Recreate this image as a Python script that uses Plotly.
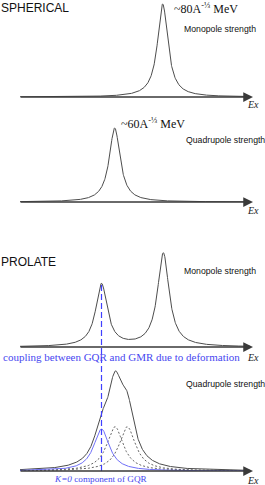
import numpy as np
import plotly.graph_objects as go

W, H = 265, 485

# ---- data (arbitrary Ex units, strength in arbitrary units) ----
ex_grid = np.linspace(20, 250, 921)

sph_mono_center = [162.7]
sph_mono_height = [93.0]
sph_mono_width = [6.3]

sph_quad_center = [114.7]
sph_quad_height = [74.0]
sph_quad_width = [6.6]

pro_mono_center = [101.5, 163.3]
pro_mono_height = [62.5, 93.5]
pro_mono_width = [7.0, 7.0]

pro_quad_total_center = [101.5, 115.0, 127.3]
pro_quad_total_height = [30.6, 72.9, 50.2]
pro_quad_total_width = [9.0, 9.0, 9.0]

k0_center, k0_height, k0_width = 101.5, 42.0, 9.5
k_other_center = [115.0, 127.3]
k_other_height = [44.3, 44.3]
k_other_width = [10.0, 10.0]


def lorentz_sum(x, centers, heights, widths):
    y = np.zeros_like(x)
    for c, h, g in zip(centers, heights, widths):
        y += h / (1.0 + ((x - c) / g) ** 2)
    return y


def dom(base_px, top_px):
    return [(H - base_px) / H, (H - top_px) / H]


def py(p):
    return 1 - p / H


def px(p):
    return p / W


panels = [
    dict(dom=dom(97, 2), rng=[0, 95]),
    dict(dom=dom(202, 107), rng=[0, 95]),
    dict(dom=dom(347, 252), rng=[0, 95]),
    dict(dom=dom(471, 369), rng=[0, 102]),
]

CURVE = "#4d4d4d"
AXIS = "#3a3a3a"
BLUE_TXT = "#4646f0"
BLUE_DASH = "#4040ff"
BLUE_CURVE = "#6f6ff8"

fig = go.Figure()


def add_line(i, x, y, color=CURVE, dash="solid", width=1.0):
    fig.add_trace(go.Scatter(
        x=x, y=y, mode="lines",
        line=dict(color=color, width=width, dash=dash),
        xaxis="x" if i == 1 else f"x{i}", yaxis="y" if i == 1 else f"y{i}",
        showlegend=False, hoverinfo="skip"))


add_line(1, ex_grid, lorentz_sum(ex_grid, sph_mono_center, sph_mono_height, sph_mono_width))
add_line(2, ex_grid, lorentz_sum(ex_grid, sph_quad_center, sph_quad_height, sph_quad_width))
add_line(3, ex_grid, lorentz_sum(ex_grid, pro_mono_center, pro_mono_height, pro_mono_width))
add_line(4, ex_grid, lorentz_sum(ex_grid, pro_quad_total_center, pro_quad_total_height,
                                 pro_quad_total_width))
for c, h, g in zip(k_other_center, k_other_height, k_other_width):
    add_line(4, ex_grid, lorentz_sum(ex_grid, [c], [h], [g]), color="#555555",
             dash="2px,2px", width=0.9)
add_line(4, ex_grid, lorentz_sum(ex_grid, [k0_center], [k0_height], [k0_width]),
         color=BLUE_CURVE)

# overlay axis (x5/y5) spanning the whole figure, y in paper fraction
peak_val = float(lorentz_sum(np.array([pro_mono_center[0]]), pro_mono_center,
                             pro_mono_height, pro_mono_width)[0])
d3, r3 = panels[2]["dom"], panels[2]["rng"]
y_top = d3[0] + peak_val / r3[1] * (d3[1] - d3[0])
y_bot = panels[3]["dom"][0]
add_line(5, [k0_center, k0_center], [y_bot, y_top], color=BLUE_DASH, dash="6px,3px",
         width=1.2)

layout = dict(width=W, height=H, margin=dict(l=0, r=0, t=0, b=0),
              paper_bgcolor="white", plot_bgcolor="rgba(0,0,0,0)")
for i, p in enumerate(panels, start=1):
    sx = "" if i == 1 else str(i)
    layout[f"xaxis{sx}"] = dict(domain=[0, 1], range=[0, W], visible=False,
                                anchor=f"y{sx}", fixedrange=True)
    layout[f"yaxis{sx}"] = dict(domain=p["dom"], range=p["rng"], visible=False,
                                anchor=f"x{sx}", fixedrange=True)
layout["xaxis5"] = dict(domain=[0, 1], range=[0, W], visible=False, anchor="y5",
                        fixedrange=True)
layout["yaxis5"] = dict(domain=[0, 1], range=[0, 1], visible=False, anchor="x5",
                        fixedrange=True)
fig.update_layout(**layout)

ann = []
# axes with arrows
for i in range(1, 5):
    sx = "" if i == 1 else str(i)
    ann.append(dict(x=253, y=0, ax=19, ay=0, xref=f"x{sx}", yref=f"y{sx}",
                    axref=f"x{sx}", ayref=f"y{sx}", showarrow=True, text="",
                    arrowhead=2, arrowsize=1.3, arrowwidth=1.5, arrowcolor=AXIS))

# Ex labels
for i, ys in zip(range(1, 5), [-7, -8, -10, -9]):
    sx = "" if i == 1 else str(i)
    ann.append(dict(x=252.5, y=0, xref=f"x{sx}", yref=f"y{sx}", yshift=ys,
                    text="<i>Ex</i>", showarrow=False, xanchor="center", yanchor="middle",
                    font=dict(family="Liberation Serif", size=10, color="#222")))

sans = "Liberation Sans"
serif = "Liberation Serif"


def label(text, x_px, y_px, family, size, color="#111", xanchor="left"):
    ann.append(dict(x=px(x_px), y=py(y_px), xref="paper", yref="paper", text=text,
                    showarrow=False, xanchor=xanchor, yanchor="middle",
                    font=dict(family=family, size=size, color=color)))


label("SPHERICAL", -1, 8, sans, 12)
label("~80A<sup>-⅓</sup> MeV", 172, 8, serif, 12)
label("Monopole strength", 182, 28.5, sans, 8.7)
label("~60A<sup>-⅓</sup> MeV", 119, 123, serif, 12)
label("Quadrupole strength", 184, 140, sans, 8.7)
label("PROLATE", -1, 262, sans, 12)
label("Monopole strength", 182, 270.5, sans, 8.7)
label("coupling between GQR and GMR due to deformation", 1, 357, serif, 11, BLUE_TXT)
label("Quadrupole strength", 184, 384, sans, 8.7)
label("<i>K=0</i> component of GQR", 52, 478.5, serif, 9.2, BLUE_TXT)

fig.update_layout(annotations=ann)

fig.write_html("out.html", config={"displayModeBar": False},
               post_script="document.body.style.margin='0';document.body.style.overflow='hidden';")
